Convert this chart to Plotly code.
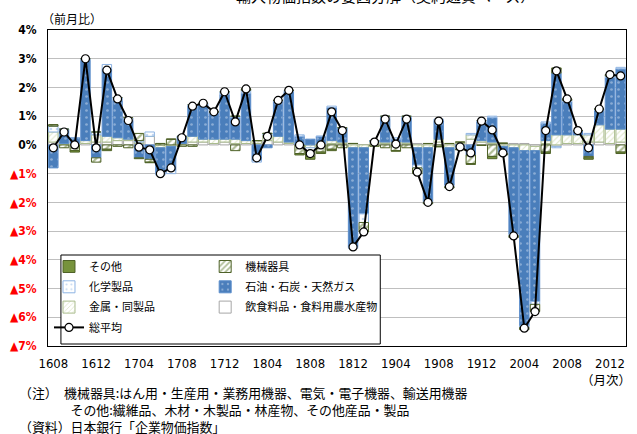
import plotly.graph_objects as go

# ---- data ----
months = []
for yy in range(16, 22):
    for mm in range(1, 13):
        lab = f"{yy:02d}{mm:02d}"
        if "1608" <= lab <= "2101":
            months.append(lab)

tick_labels = ["1608", "1612", "1704", "1708", "1712", "1804", "1808",
               "1812", "1904", "1908", "1912", "2004", "2008", "2012"]

total = [-0.10, 0.45, 0.00, 3.00, -0.10, 2.60, 1.60, 0.85, -0.08, -0.17,
         -1.00, -0.80, 0.25, 1.35, 1.45, 1.15, 1.85, 0.80, 1.95, -0.45,
         0.30, 1.55, 1.90, 0.00, -0.30, 0.00, 1.15, 0.50, -3.55, -3.03,
         0.10, 0.90, 0.03, 0.90, -0.95, -2.00, 0.83, -1.45, -0.07, -0.28,
         0.83, 0.52, -0.28, -3.17, -6.38, -5.80, 0.50, 2.58, 1.60, 0.50,
         -0.10, 1.25, 2.45, 2.40]

food = [0.10, 0.00, 0.00, 0.05, 0.10, 0.10, 0.15, 0.15, 0.05, 0.30,
        0.00, 0.00, 0.00, 0.10, 0.10, 0.05, 0.10, 0.05, 0.05, 0.05,
        0.15, 0.10, 0.05, 0.00, 0.00, 0.00, 0.05, 0.05, 0.05, 0.00,
        0.05, 0.05, 0.05, 0.05, 0.05, 0.05, 0.10, 0.05, 0.05, 0.20,
        0.10, 0.05, 0.05, 0.05, 0.05, -0.05, 0.05, -0.05, 0.05, 0.05,
        0.10, 0.10, 0.05, 0.10]

metal = [0.35, 0.05, 0.05, 0.10, 0.25, 0.20, 0.10, 0.05, 0.05, 0.00,
         -0.10, -0.05, 0.05, 0.20, 0.10, 0.15, 0.10, 0.15, 0.10, 0.10,
         0.20, 0.20, 0.05, 0.00, -0.10, 0.05, 0.10, 0.05, -0.10, -0.10,
         0.05, 0.05, 0.05, 0.05, -0.10, -0.10, 0.10, -0.10, 0.05, 0.15,
         0.05, 0.05, -0.05, -0.10, -0.20, -0.15, 0.10, 0.35, 0.30, 0.30,
         0.25, 0.60, 0.50, 0.45]

oil = [-0.80, 0.50, 0.20, 2.80, -0.45, 2.35, 1.30, 0.65, -0.45, -0.50,
       -0.90, -0.85, 0.25, 1.05, 1.20, 0.90, 1.55, 0.75, 1.65, -0.55,
       -0.10, 1.20, 1.75, 0.30, 0.20, 0.25, 1.15, 0.50, -3.45, -2.30,
       0.05, 0.80, 0.10, 0.85, -0.60, -1.85, 0.65, -1.30, -0.10, -0.35,
       0.65, 0.85, -0.20, -3.00, -6.10, -5.25, 0.60, 2.15, 1.15, 0.15,
       -0.40, 0.50, 1.80, 2.10]

chem = [0.20, 0.00, 0.00, 0.05, 0.10, 0.15, 0.10, 0.10, 0.05, 0.15,
        -0.05, -0.10, 0.00, 0.05, 0.05, 0.05, 0.10, 0.05, 0.10, -0.05,
        0.05, 0.05, 0.05, 0.05, -0.10, 0.00, 0.05, 0.00, -0.05, -0.30,
        0.00, 0.10, 0.05, 0.05, -0.10, -0.05, 0.05, -0.05, -0.05, 0.05,
        0.05, 0.05, -0.05, -0.05, -0.05, -0.10, 0.05, -0.05, 0.05, 0.00,
        0.05, 0.05, 0.05, 0.05]

machinery = [0.05, -0.10, -0.20, 0.00, -0.15, -0.15, -0.05, -0.10, 0.25, -0.10,
             0.05, 0.20, -0.05, -0.05, 0.00, 0.00, 0.00, -0.20, 0.05, 0.00,
             0.00, 0.00, 0.00, -0.30, -0.20, -0.25, -0.15, -0.10, 0.00, -0.28,
             -0.05, -0.10, -0.20, -0.10, -0.15, -0.05, -0.05, -0.05, 0.00, -0.30,
             -0.02, -0.40, -0.05, -0.05, -0.05, -0.20, -0.25, 0.15, 0.05, 0.00,
             -0.05, 0.00, 0.05, -0.25]

other = [0.00, 0.00, -0.05, 0.00, 0.00, -0.05, 0.00, 0.00, -0.03, -0.02,
         0.00, 0.00, 0.00, 0.00, 0.00, 0.00, 0.00, 0.00, 0.00, 0.00,
         0.00, 0.00, 0.00, -0.05, -0.10, -0.05, -0.05, 0.00, 0.00, -0.05,
         0.00, 0.00, -0.02, 0.00, -0.05, 0.00, -0.02, 0.00, -0.02, -0.03,
         0.00, -0.08, 0.02, -0.02, -0.03, -0.05, -0.05, 0.03, 0.00, 0.00,
         -0.05, 0.00, 0.00, -0.05]

y_ticks = [4, 3, 2, 1, 0, -1, -2, -3, -4, -5, -6, -7]

# ---- layout helpers (pixels -> paper) ----
W, H = 637, 434
L, R, T, B = 46, 10, 30, 88
PW, PH = W - L - R, H - T - B


def px(x):
    return (x - L) / PW


def py(y):
    return (H - B - y) / PH


JP = "Noto Sans CJK JP, Noto Sans, sans-serif"
NARROW = "Liberation Sans Narrow, DejaVu Sans Condensed, Liberation Sans, sans-serif"

fig = go.Figure()

bar_specs = [
    ("飲食料品・食料用農水産物", food, dict(color="white", line=dict(color="#A6A6A6", width=1)), "legend2", 3),
    ("金属・同製品", metal, dict(color="white", line=dict(color="#A9BC8C", width=1),
                           pattern=dict(shape="/", fgcolor="#B9CC8E", size=4, solidity=0.25)), "legend", 3),
    ("石油・石炭・天然ガス", oil, dict(color="#4A7EBB", line=dict(color="#5B8DCB", width=1),
                              pattern=dict(shape=".", fgcolor="#C9D9EE", size=7, solidity=0.12)), "legend2", 2),
    ("化学製品", chem, dict(color="white", line=dict(color="#8EB4E3", width=1),
                        pattern=dict(shape=".", fgcolor="#8EB4E3", size=6, solidity=0.15)), "legend", 2),
    ("機械器具", machinery, dict(color="white", line=dict(color="#4F6228", width=1),
                             pattern=dict(shape="/", fgcolor="#5E7A2C", size=5, solidity=0.45)), "legend2", 1),
    ("その他", other, dict(color="#77933C", line=dict(color="#4F6228", width=1)), "legend", 1),
]

for name, vals, marker, lg, rank in bar_specs:
    fig.add_trace(go.Bar(x=months, y=vals, name=name, marker=marker,
                         legend=lg, legendrank=rank, legendgroup=name))

fig.add_trace(go.Scatter(
    x=months, y=total, name="総平均", mode="lines+markers",
    line=dict(color="black", width=2),
    marker=dict(symbol="circle", size=8, color="white", line=dict(color="black", width=1.2)),
    legend="legend", legendrank=4, legendgroup="総平均"))

ticktext = []
for v in y_ticks:
    if v < 0:
        ticktext.append(f"<span style='color:#FF0000'><b>▲{-v}%</b></span>")
    else:
        ticktext.append(f"<b>{v}%</b>")

legend_common = dict(
    orientation="v", bgcolor="rgba(0,0,0,0)", borderwidth=0,
    font=dict(family=JP, size=11, color="black"),
    yanchor="top", xanchor="left", tracegroupgap=1.3,
    itemclick=False, itemdoubleclick=False,
)

fig.update_layout(
    width=W, height=H,
    margin=dict(l=L, r=R, t=T, b=B, pad=0),
    paper_bgcolor="white", plot_bgcolor="white",
    barmode="relative", bargap=0.12,
    showlegend=True,
    legend=dict(legend_common, x=px(47), y=py(252)),
    legend2=dict(legend_common, x=px(204), y=py(252)),
    font=dict(family=JP, color="black"),
    xaxis=dict(
        type="category", range=[-0.5, len(months) - 0.5],
        tickvals=tick_labels, ticktext=tick_labels,
        ticks="outside", ticklen=5, tickcolor="rgba(0,0,0,0)",
        tickfont=dict(family=NARROW, size=13, color="black"),
        showgrid=False, showline=True, linecolor="black", linewidth=1, mirror=True,
        fixedrange=True,
    ),
    yaxis=dict(
        range=[-7, 4], tickvals=y_ticks, ticktext=ticktext,
        ticks="outside", ticklen=8, tickcolor="rgba(0,0,0,0)",
        tickfont=dict(family=NARROW, size=12, color="black"),
        showgrid=True, gridcolor="#BFBFBF", gridwidth=1, zeroline=False,
        showline=True, linecolor="black", linewidth=1, mirror=True,
        fixedrange=True,
    ),
    shapes=[dict(type="rect", xref="paper", yref="paper",
                 x0=px(59), x1=px(380), y0=py(255), y1=py(344),
                 fillcolor="white", line=dict(color="black", width=1), layer="above")],
)

notes = ("（注）　機械器具:はん用・生産用・業務用機器、電気・電子機器、輸送用機器<br>"
         "　　　　その他:繊維品、木材・木製品・林産物、その他産品・製品<br>"
         "（資料）日本銀行「企業物価指数」")

ann = [
    dict(text="輸入物価指数の要因分解（契約通貨ベース）", x=px(385), y=py(8), xanchor="center",
         yanchor="bottom", font=dict(size=15, family=JP, color="black")),
    dict(text="（前月比）", x=px(38), y=py(18), xanchor="left", yanchor="middle",
         font=dict(size=12, family=JP)),
    dict(text="（月次）", x=px(634), y=py(380), xanchor="right", yanchor="middle",
         font=dict(size=12.5, family=JP)),
    dict(text=notes, x=px(15), y=py(409.5), xanchor="left", yanchor="middle", align="left",
         font=dict(size=12.9, family=JP)),
]
for a in ann:
    a.update(xref="paper", yref="paper", showarrow=False)
fig.update_layout(annotations=ann)

fig.write_html("out.html", post_script="document.body.style.margin='0';",
               config={"displayModeBar": False, "staticPlot": False})
